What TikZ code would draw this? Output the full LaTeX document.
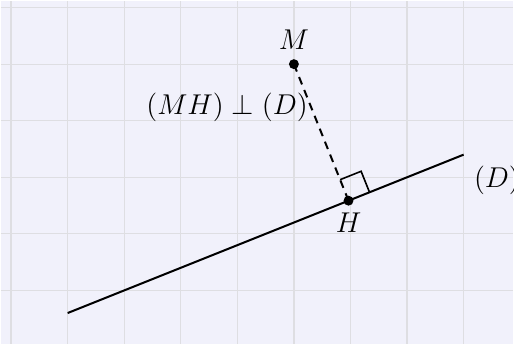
\documentclass[tikz,border=0pt]{standalone}
\usepackage{amsmath,amssymb}
\usepackage{tikz}
\usetikzlibrary{positioning,calc}
\definecolor{fondo}{RGB}{241,241,251}
\definecolor{rejilla}{RGB}{222,222,226}

\begin{document}
\begin{tikzpicture}[
  punto/.style={circle, fill=black, inner sep=0pt, minimum size=5pt},
  etiq/.style={font=\Large},
  recta/.style={line width=1pt},
  perp/.style={line width=1pt, dash pattern=on 4pt off 3pt},
  angulo/.style={line width=0.8pt}]
  \fill[fondo] (-0.185,0.056) rectangle (8.88,6.123);
  \draw[rejilla, line width=0.6pt] (-0.185,0.056) grid (8.88,6.123);
  \useasboundingbox (-0.185,0.056) rectangle (8.88,6.123);
  \coordinate (A) at (1,0.6);
  \coordinate (B) at (8,3.4);
  \coordinate (M) at (5,5);
  \coordinate (H) at ($(A)!(M)!(B)$);
  \draw[recta] (A) -- (B);
  \draw[perp] (M) -- (H);
  \coordinate (h1) at ($(H)!0.4cm!(B)$);
  \coordinate (h2) at ($(H)!0.4cm!(M)$);
  \draw[angulo] (h1) -- ($(h1)+(h2)-(H)$) -- (h2);
  \node[punto] (pm) at (M) {};
  \node[punto] (ph) at (H) {};
  \node[etiq, above=1pt of pm] (lm) {$M$};
  \node[etiq, below=0pt of ph] (lh) {$H$};
  \node[etiq, anchor=west] (ld) at (8.06,2.95) {$(D)$};
  \node[etiq] (lmh) at (3.82,4.24) {$(MH)\perp(D)$};
\end{tikzpicture}
\end{document}
